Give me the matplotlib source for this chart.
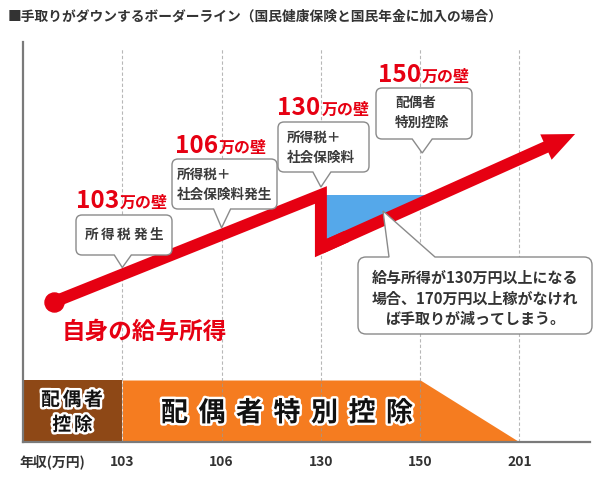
import numpy as np
import matplotlib
matplotlib.use("Agg")
import matplotlib.pyplot as plt
import matplotlib.patheffects as pe
import matplotlib.transforms as mtransforms
from matplotlib.path import Path
from matplotlib.patches import PathPatch, FancyArrowPatch

plt.rcParams['font.family'] = ['Noto Sans CJK JP', 'DejaVu Sans']

W, H, DPI = 611, 482, 100

# ---------------- data ----------------
title = "■手取りがダウンするボーダーライン（国民健康保険と国民年金に加入の場合）"
income_ticks = [1, 2, 3, 4, 5]
income_labels = ["103", "106", "130", "150", "201"]
axis_label = "年収(万円)"

# take-home income line (x: position on income axis, y: relative level)
line_x = [0.31, 3.0, 3.0, 5.56]
line_y = [140, 247, 194, 308]
line_label = "自身の給与所得"

# deduction bands
spouse_ded_x = [0, 1]
special_ded_x = [1, 4, 5]
special_ded_y = [62, 62, 0]
band_h = 62

wall_values = ["103", "106", "130", "150"]
wall_notes = ["所得税発生", "所得税＋\n社会保険料発生", "所得税＋\n社会保険料", "配偶者\n特別控除"]
big_note = ["給与所得が130万円以上になる", "場合、170万円以上稼がなけれ", "ば手取りが減ってしまう。"]

RED = '#e60012'
BLUE = '#55a8ea'
ORANGE = '#f57c20'
BROWN = '#8e4816'
TXT = '#333333'

# ---------------- figure ----------------
fig = plt.figure(figsize=(W / DPI, H / DPI), dpi=DPI)
fig.patch.set_facecolor('white')
ax = fig.add_axes([23 / W, 40 / H, 567 / W, 400 / H])
ax.set_xlim(0, 5.71)
ax.set_ylim(0, 400)
ax.set_facecolor('none')
for s in ['top', 'right']:
    ax.spines[s].set_visible(False)
for s in ['left', 'bottom']:
    ax.spines[s].set_color('#7a7a7a')
    ax.spines[s].set_linewidth(1.6)
ax.set_yticks([])
ax.set_xticks(income_ticks, income_labels, fontsize=10, fontweight='bold', color=TXT)
ax.tick_params(axis='x', length=0, pad=9)

# bands
ax.fill_between(spouse_ded_x, 0, band_h, color=BROWN, lw=0, zorder=1)
ax.fill_between(special_ded_x, 0, special_ded_y, color=ORANGE, lw=0, zorder=1)

# grid lines
ax.vlines(income_ticks, 0, 394, colors='#999999', linestyles=(0, (3, 2)), lw=0.8, alpha=0.7, zorder=1.5)

# blue loss area
px0, py0 = line_x[1], line_y[1]
bx, by = line_x[2], line_y[2]
tx, ty = line_x[3], line_y[3]
t = (py0 - by) / (ty - by)
xi = bx + t * (tx - bx)
ax.fill([px0, xi, bx], [py0, py0, by], color=BLUE, lw=0, zorder=2)

# red line + arrow
jx = bx + 0.1 * (tx - bx)
jy = by + 0.1 * (ty - by)
ax.plot(line_x[:3] + [jx], line_y[:3] + [jy], color=RED, lw=8.6,
        solid_joinstyle='miter', solid_capstyle='butt', zorder=3)
ax.plot(line_x[0], line_y[0], 'o', color=RED, ms=13.7, zorder=3)
arr = FancyArrowPatch((bx, by), (tx, ty), arrowstyle='simple,head_length=1.15,head_width=1.0,tail_width=0.43',
                      mutation_scale=20, color=RED, lw=0, shrinkA=0, shrinkB=0, zorder=3)
ax.add_patch(arr)

# ---------------- annotations (pixel space) ----------------
PX = mtransforms.Affine2D().scale(1, -1).translate(0, H)


def d2p(x, y):
    X, Y = ax.transData.transform((x, y))
    return X, H - Y


def callout(x0, y0, x1, y1, tip, base, side='bottom', r=6):
    tpx, tpy = tip
    b0, b1 = base
    V, C = [], []

    def M(p):
        V.append(p); C.append(Path.MOVETO)

    def L(p):
        V.append(p); C.append(Path.LINETO)

    def Q(c, p):
        V.extend([c, p]); C.extend([Path.CURVE3, Path.CURVE3])

    M((x0 + r, y0))
    if side == 'top':
        L((b0, y0)); L((tpx, tpy)); L((b1, y0))
    L((x1 - r, y0)); Q((x1, y0), (x1, y0 + r))
    L((x1, y1 - r)); Q((x1, y1), (x1 - r, y1))
    if side == 'bottom':
        L((b1, y1)); L((tpx, tpy)); L((b0, y1))
    L((x0 + r, y1)); Q((x0, y1), (x0, y1 - r))
    L((x0, y0 + r)); Q((x0, y0), (x0 + r, y0))
    V.append((x0 + r, y0)); C.append(Path.CLOSEPOLY)
    fig.add_artist(PathPatch(Path(V, C), transform=PX, facecolor='white',
                             edgecolor='#8a8a8a', lw=1.0, zorder=5))


def ftext(x, y, s, **kw):
    kw.setdefault('zorder', 6)
    return fig.text(x, y, s, transform=PX, **kw)


def spaced(cx, y, s, step, **kw):
    n = len(s)
    for i, ch in enumerate(s):
        ftext(cx + (i - (n - 1) / 2) * step, y, ch, ha='center', va='center', **kw)


def line_tip(xv, off=7):
    yv = np.interp(xv, line_x[:2], line_y[:2])
    X, Y = d2p(xv, yv)
    return X, Y - off


BOXTXT = dict(fontsize=9.8, fontweight='bold', color='#3a3a3a')

# callout 1 (103)
tip = line_tip(income_ticks[0])
callout(76, 215, 172, 255, tip, (tip[0] - 8, tip[0] + 9))
spaced(124, 235, wall_notes[0], 16, **BOXTXT)

# callout 2 (106)
tip = line_tip(income_ticks[1])
callout(172, 159, 277, 209, tip, (tip[0] - 8, tip[0] + 9))
for k, ln in enumerate(wall_notes[1].split('\n')):
    ftext(177, 175 + 20 * k, ln, ha='left', va='center', **BOXTXT)

# callout 3 (130)
tip = line_tip(income_ticks[2], off=8)
callout(278, 122, 369, 172, tip, (tip[0] - 8, tip[0] + 10))
for k, ln in enumerate(wall_notes[2].split('\n')):
    ftext(287, 138 + 20 * k, ln, ha='left', va='center', **BOXTXT)

# callout 4 (150)
tip = (d2p(income_ticks[3], 0)[0] + 2, 153)
callout(376, 88, 472, 139, tip, (tip[0] - 10, tip[0] + 10))
for k, ln in enumerate(wall_notes[3].split('\n')):
    ftext(395, 103 + 20 * k, ln, ha='left', va='center', **BOXTXT)

# big callout
callout(358, 257, 592, 334, (383, 211), (389, 435), side='top', r=8)
for k, ln in enumerate(big_note):
    ftext(475, 278 + 20.5 * k, ln, ha='center', va='center', fontsize=10.8, fontweight='bold', color=TXT)

# wall labels
wall_pos = [(76, 208), (175, 153), (277, 115), (378, 82)]
fig.canvas.draw()
r = fig.canvas.get_renderer()
for (lx, ly), v in zip(wall_pos, wall_values):
    t1 = ftext(lx, ly, v, ha='left', va='baseline', fontsize=17.5, fontweight='bold', color=RED)
    bb = t1.get_window_extent(r)
    ftext(bb.x1 + 1, ly, "万の壁", ha='left', va='baseline', fontsize=11.5, fontweight='bold', color=RED)

# line label
ftext(62, 332, line_label, ha='left', va='center', fontsize=17, fontweight='bold', color=RED)

# band labels
halo = [pe.withStroke(linewidth=3.5, foreground='white')]
spaced(287, 413, "配偶者特別控除", 37.5, fontsize=19.5, fontweight='bold', color='#111111', path_effects=halo)
spaced(72, 400, "配偶者", 21.5, fontsize=13.5, fontweight='bold', color='#111111', path_effects=halo)
spaced(72.5, 425, "控除", 21.5, fontsize=13.5, fontweight='bold', color='#111111', path_effects=halo)

# axis label + title
ftext(52, 462, axis_label, ha='center', va='center', fontsize=10, fontweight='bold', color=TXT)
ftext(8, 17, title, ha='left', va='center', fontsize=9.9, fontweight='bold', color=TXT)

fig.savefig('out.png', dpi=DPI, facecolor='white')
